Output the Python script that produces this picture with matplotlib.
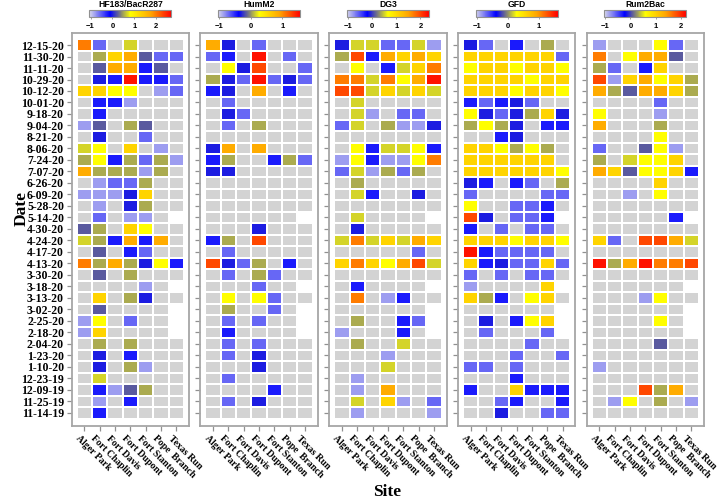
import matplotlib
matplotlib.use("Agg")

import numpy as np
import matplotlib.pyplot as plt
import matplotlib.transforms as mtransforms
from matplotlib.colors import LinearSegmentedColormap, ListedColormap, Normalize
from matplotlib.cm import ScalarMappable

# Dates (rows, top to bottom) and sites (columns)
dates = ["12-15-20", "11-30-20", "11-11-20", "10-29-20", "10-12-20", "10-01-20",
         "9-18-20", "9-04-20", "8-21-20", "8-06-20", "7-24-20", "7-07-20",
         "6-26-20", "6-09-20", "5-28-20", "5-14-20", "4-30-20", "4-24-20",
         "4-17-20", "4-13-20", "3-30-20", "3-18-20", "3-13-20", "3-02-20",
         "2-25-20", "2-18-20", "2-04-20", "1-23-20", "1-10-20", "12-23-19",
         "12-09-19", "11-25-19", "11-14-19"]
sites = ["Alger Park", "Fort Chaplin", "Fort Davis", "Fort Dupont",
         "Fort Stanton", "Pope  Branch", "Texas Run"]

markers = ["HF183/BacR287", "HumM2", "DG3", "GFD", "Rum2Bac"]
# colour bar ranges
vmins = [-1.05, -1.03, -1.05, -1.04, -1.03]
vmaxs = [2.70, 1.57, 2.35, 1.60, 2.20]

# cell levels, as position on each colour scale
# '.' = not quantified (grey), '_' = no sample (white)
levels = {"l": 0.07, "m": 0.13, "b": 0.22, "B": 0.28, "s": 0.34, "o": 0.42,
          "k": 0.46, "y": 0.50, "g": 0.62, "a": 0.73, "O": 0.81, "R": 0.89,
          "r": 0.97}

hf183 = ["Om.k...", ".ogasmm", ".saabs.", ".Bbrbbm", "ggyy.lm", ".bbl...",
         ".b.....", "ls.os..", ".B..m..", "ky.g.l.", "oybomol", "aooolo.",
         ".lmmo..", "lllBg..", ".l.Bo..", ".m.ll._", "so.gy..", "kobaba.",
         ".s.bm..", "OoaoByb", ".s.o...", "....l._", ".g.oB..", ".s...._",
         "ly.m.._", "lg...._", ".o.o...", ".B.b...", ".B.ol..", ".k.....",
         ".blso..", ".l.b...", ".b....."]
humm2 = ["aB.m...", "mb.r.m.", ".yBR..m", "oBmrmBm", "bB.a.b.", ".m.....",
         ".Bm....", ".m.o...", ".......", "Ba.a...", "bo..bom", "BB.....",
         ".......", ".......", ".......", "......_", "...B...", "bo.R...",
         ".m.....", "RBmo.b.", ".m.om..", "...m.._", ".y.ym..", ".o..m._",
         ".m.m.._", ".b...._", ".m.m...", ".m.B...", "...B...", ".m.....",
         "....b..", ".m.B...", "......."]
dg3 = ["Bkkmmkl", "oRbagag", ".y.bkgO", "OOkOyar", "RRkgkgk", ".k.....",
       ".kl.mm.", "mk.ollB", ".......", ".ybkkyb", "lybllyO", "mklomo.",
       ".o.....", ".kb..B.", ".......", ".k...._", ".B.....", "kOkgkag",
       ".....m.", "gOgyaRk", ".......", ".b...._", ".O.lb..", "......_",
       ".o..bm_", "l...b._", ".o..k..", "...l...", "...k...", ".l.....",
       ".l.a...", ".k.gl.m", ".l....l"]
gfd = ["Bm.b.o.", "ggggggm", "yggyggy", "ggggygg", "gggyggy", "bmbBm..",
       "yBmBogB", "oyoB.bb", "..bB...", "ggyoyo.", "gggggg.", "ggggggy",
       "Bb.bm.o", "m....mm", "y..mmb.", "RB.mmb_", "b.m.mm.", "gggyggy",
       "rbmmmm.", "gbBmmgm", "m.m.mm.", "l....g_", "gob.yg.", "......_",
       ".B.byg_", ".m...m_", "....m..", "...m..m", "mm.m...", "...b...",
       "b..gbbb", "..mb..b", "..B..mm"]
rum2bac = ["l...ym.", "O.yaas.", "om.bg..", "Rlgaygo", "aosaago", "....m..",
           "y...l..", "a...o..", "....y..", "m..syl.", "o.kyyg.", "agsyygb",
           "....g..", "..l.y..", ".......", ".....b_", ".......", "gm.RRak",
           ".......", "roarOOR", ".......", "......_", "...ly..", "......_",
           "....y._", "......_", "....s..", ".......", "l......", ".......",
           "...Roa.", ".ly.o.l", "......."]
panels = [hf183, humm2, dg3, gfd, rum2bac]

cmap = LinearSegmentedColormap.from_list(
    "qpcr", [(0.0, "#d6d6ea"), (0.25, "#0000ff"), (0.375, "#7c7c7c"),
             (0.5, "#ffff00"), (0.75, "#ffa500"), (1.0, "#ff0000")])
greycm = ListedColormap(["#d3d3d3"])

serif = "Liberation Serif"
sans = "Liberation Sans"

fig = plt.figure(figsize=(7.2, 5.04), dpi=100)
shift = mtransforms.ScaledTranslation(-4 / 100, 0, fig.dpi_scale_trans)

nr, nc = len(dates), len(sites)
xe = np.arange(nc + 1) - 0.5
ye = np.arange(nr + 1) - 0.5

for i, rows in enumerate(panels):
    left = 71.7 + 128.7 * i
    ax = fig.add_axes([left / 720, 1 - 426 / 504, 117.5 / 720, 392.7 / 504])
    vmin, vmax = vmins[i], vmaxs[i]

    vals = np.full((nr, nc), np.nan)
    missing = np.zeros((nr, nc), dtype=bool)
    for r, line in enumerate(rows):
        for c, ch in enumerate(line):
            if ch == "_":
                missing[r, c] = True
            elif ch != ".":
                vals[r, c] = vmin + levels[ch] * (vmax - vmin)

    grey = np.ma.masked_where(missing, np.zeros((nr, nc)))
    ax.pcolormesh(xe, ye, grey, cmap=greycm, edgecolors="white", linewidth=1.1)
    ax.pcolormesh(xe, ye, np.ma.masked_invalid(vals), cmap=cmap, vmin=vmin, vmax=vmax,
                  edgecolors="white", linewidth=1.1)
    ax.set_xlim(-0.83, 6.83)
    ax.set_ylim(33.15, -1.02)

    for sp in ax.spines.values():
        sp.set_color("#a6a6a6")
        sp.set_linewidth(1.3)
    ax.tick_params(axis="both", length=3.5, width=0.9, color="#909090", pad=2)
    ax.set_yticks(range(nr))
    ax.set_xticks(range(nc))
    if i == 0:
        ax.set_yticklabels(dates, fontfamily=serif, fontweight="bold", fontsize=8.5)
    else:
        ax.set_yticklabels([])
    ax.set_xticklabels(sites, rotation=-45, ha="left", va="top", rotation_mode="anchor",
                       fontfamily=serif, fontweight="bold", fontsize=6.9)
    for lab in ax.get_xticklabels():
        lab.set_transform(lab.get_transform() + shift)

    # colour bar on top of each panel
    cx = left + 117.5 / 2
    cax = fig.add_axes([(cx - 41) / 720, 1 - 17.3 / 504, 82 / 720, 7.3 / 504])
    sm = ScalarMappable(norm=Normalize(vmin, vmax), cmap=cmap)
    cb = fig.colorbar(sm, cax=cax, orientation="horizontal")
    cb.set_ticks([t for t in range(-1, 3) if vmin <= t <= vmax])
    cb.outline.set_edgecolor("#909090")
    cb.outline.set_linewidth(0.8)
    cax.tick_params(length=1.5, width=0.6, color="#909090", pad=2.5)
    for lab in cax.get_xticklabels():
        lab.set_fontfamily(sans)
        lab.set_fontweight("bold")
        lab.set_fontsize(5.5)
    cax.set_title(markers[i], fontfamily=sans, fontweight="bold", fontsize=6.2, pad=2.5)

fig.text(0.03, 0.587, "Date", rotation=90, ha="center", va="center",
         fontfamily=serif, fontweight="bold", fontsize=12.5)
fig.text(0.5375, 0.024, "Site", ha="center", va="center",
         fontfamily=serif, fontweight="bold", fontsize=12.5)

fig.savefig("out.png", dpi=100)
